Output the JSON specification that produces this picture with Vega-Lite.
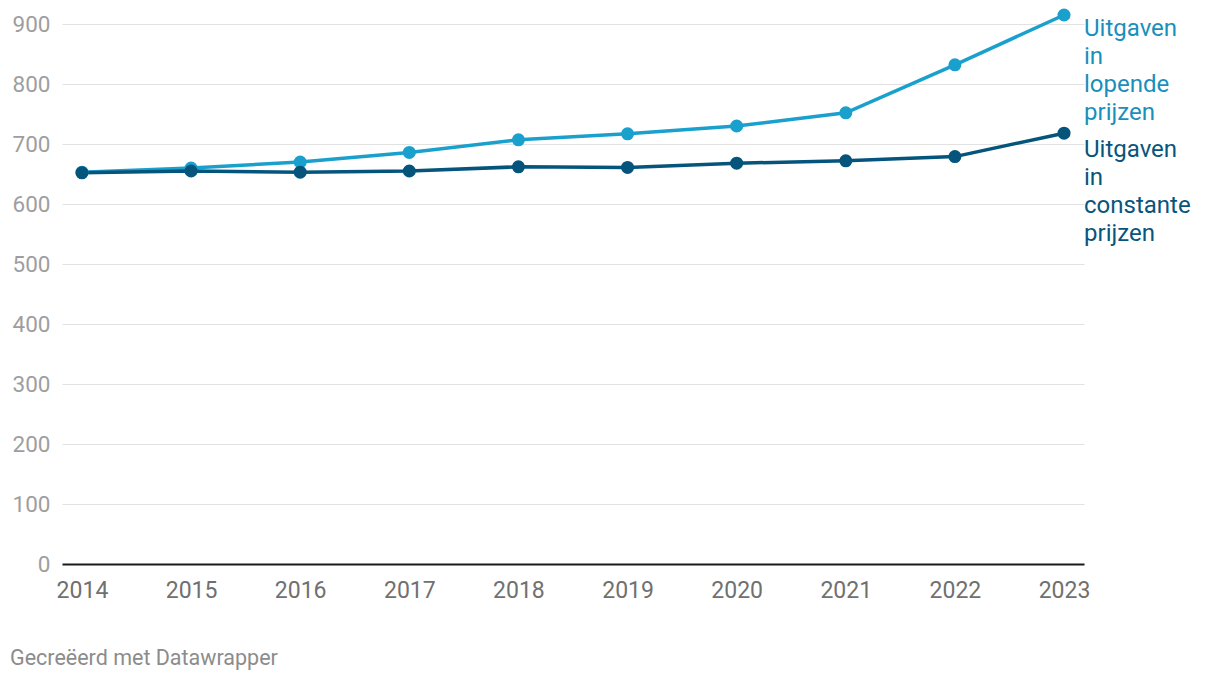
{
  "$schema": "https://vega.github.io/schema/vega-lite/v6.json",
  "autosize": {"type": "none"},
  "width": 1022,
  "height": 540,
  "padding": {"left": 62, "top": 24, "right": 136, "bottom": 116},
  "background": "white",
  "config": {
    "font": "Roboto",
    "view": {"stroke": null}
  },
  "title": {
    "text": "Gecreëerd met Datawrapper",
    "orient": "bottom",
    "anchor": "start",
    "frame": "group",
    "dx": -52,
    "offset": 46,
    "fontSize": 21.5,
    "fontWeight": "normal",
    "color": "#8c8c8c",
    "font": "Roboto"
  },
  "data": {
    "values": [
      {"jaar": "2014", "reeks": "lopende", "waarde": 653},
      {"jaar": "2015", "reeks": "lopende", "waarde": 660},
      {"jaar": "2016", "reeks": "lopende", "waarde": 670},
      {"jaar": "2017", "reeks": "lopende", "waarde": 686},
      {"jaar": "2018", "reeks": "lopende", "waarde": 707},
      {"jaar": "2019", "reeks": "lopende", "waarde": 717},
      {"jaar": "2020", "reeks": "lopende", "waarde": 730},
      {"jaar": "2021", "reeks": "lopende", "waarde": 752},
      {"jaar": "2022", "reeks": "lopende", "waarde": 832},
      {"jaar": "2023", "reeks": "lopende", "waarde": 915},
      {"jaar": "2014", "reeks": "constante", "waarde": 652},
      {"jaar": "2015", "reeks": "constante", "waarde": 655},
      {"jaar": "2016", "reeks": "constante", "waarde": 653},
      {"jaar": "2017", "reeks": "constante", "waarde": 655},
      {"jaar": "2018", "reeks": "constante", "waarde": 662},
      {"jaar": "2019", "reeks": "constante", "waarde": 661},
      {"jaar": "2020", "reeks": "constante", "waarde": 668},
      {"jaar": "2021", "reeks": "constante", "waarde": 672},
      {"jaar": "2022", "reeks": "constante", "waarde": 679},
      {"jaar": "2023", "reeks": "constante", "waarde": 718}
    ]
  },
  "encoding": {
    "x": {
      "field": "jaar",
      "type": "ordinal",
      "scale": {"type": "point", "padding": 0.183},
      "axis": {
        "title": null,
        "labelAngle": 0,
        "labelFontSize": 23,
        "labelColor": "#707070",
        "labelPadding": 15,
        "ticks": false,
        "domain": true,
        "domainColor": "#1a1a1a",
        "domainWidth": 2,
        "grid": false
      }
    },
    "y": {
      "field": "waarde",
      "type": "quantitative",
      "scale": {"domain": [0, 900], "nice": false},
      "axis": {
        "title": null,
        "values": [0, 100, 200, 300, 400, 500, 600, 700, 800, 900],
        "labelFontSize": 22.5,
        "labelColor": "#9e9e9e",
        "labelPadding": 12,
        "ticks": false,
        "domain": false,
        "grid": true,
        "gridColor": "#e2e2e2",
        "gridWidth": 1
      }
    },
    "color": {
      "field": "reeks",
      "type": "nominal",
      "scale": {"domain": ["lopende", "constante"], "range": ["#1aa0cc", "#04547c"]},
      "legend": null
    }
  },
  "layer": [
    {"mark": {"type": "line", "strokeWidth": 3.5}},
    {"mark": {"type": "circle", "size": 170, "opacity": 1}},
    {
      "transform": [{"filter": "datum.jaar == '2023' && datum.reeks == 'lopende'"}],
      "mark": {"type": "text", "align": "left", "baseline": "top", "dx": 20, "dy": 2, "fontSize": 24, "lineHeight": 28, "lineBreak": "\n"},
      "encoding": {"text": {"value": "Uitgaven\nin\nlopende\nprijzen"}, "color": {"value": "#1a8fbb"}}
    },
    {
      "transform": [{"filter": "datum.jaar == '2023' && datum.reeks == 'constante'"}],
      "mark": {"type": "text", "align": "left", "baseline": "top", "dx": 20, "dy": 5, "fontSize": 24, "lineHeight": 28, "lineBreak": "\n"},
      "encoding": {"text": {"value": "Uitgaven\nin\nconstante\nprijzen"}, "color": {"value": "#07557d"}}
    }
  ]
}
